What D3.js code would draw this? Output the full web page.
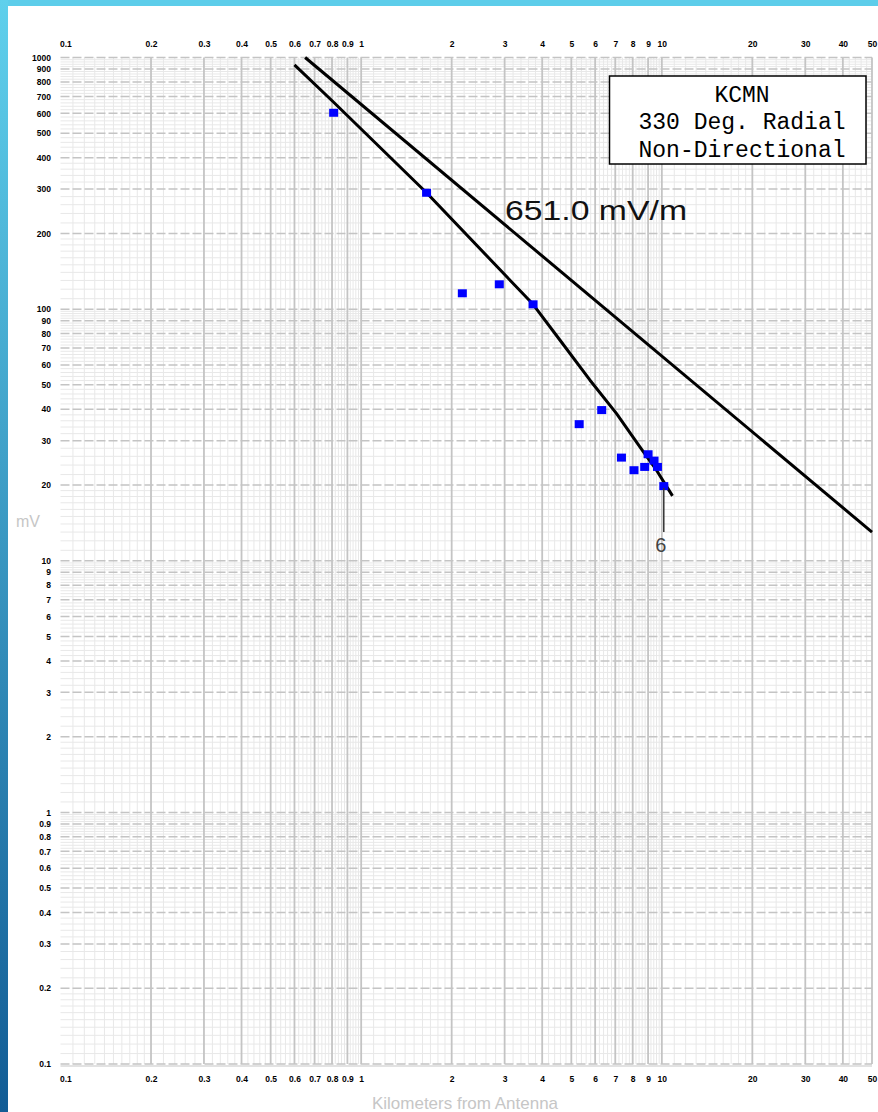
<!DOCTYPE html>
<html>
<head>
<meta charset="utf-8">
<script src="https://cdn.jsdelivr.net/npm/d3@7"></script>
<style>
  body { margin: 0; background: #fff; }
  .tick text { font-family: "Liberation Sans", Arial, sans-serif; font-size: 8.5px; font-weight: bold; fill: #000; }
</style>
</head>
<body>
<div id="chart"></div>
<script>
var svgWidth = 878;
var svgHeight = 1112;

// axis tick labels
var xTicks = [0.1, 0.2, 0.3, 0.4, 0.5, 0.6, 0.7, 0.8, 0.9, 1, 2, 3, 4, 5, 6, 7, 8, 9, 10, 20, 30, 40, 50];
var yTicks = [0.1, 0.2, 0.3, 0.4, 0.5, 0.6, 0.7, 0.8, 0.9, 1, 2, 3, 4, 5, 6, 7, 8, 9,
  10, 20, 30, 40, 50, 60, 70, 80, 90, 100, 200, 300, 400, 500, 600, 700, 800, 900, 1000];

// measured field strengths (blue squares)
var measuredKm = [0.81, 1.65, 2.17, 2.88, 3.73, 5.31, 6.31, 7.34, 8.08, 8.77, 9.00, 9.42, 9.67, 10.15];
var measuredMv = [603, 290, 115.6, 125.5, 104.5, 34.9, 39.7, 25.7, 22.9, 23.6, 26.5, 25.0, 23.6, 19.8];

// fitted conductivity curve
var curveKm = [0.60, 0.81, 1.65, 3.73, 4.58, 5.76, 7.06, 8.44, 9.6, 10.85];
var curveMv = [934, 664, 290, 104.5, 75.4, 52.3, 38.5, 28.4, 22.9, 18.1];

// inverse distance reference line
var refKm = [0.651, 50];
var refMv = [1000, 13.0];
var refLabel = "651.0 mV/m";

var stationLines = ["KCMN", "330 Deg. Radial", "Non-Directional"];
var pointLabel = "6";

var svg = d3.select("#chart")
  .append("svg")
  .attr("width", svgWidth)
  .attr("height", svgHeight);

// slide frame
var defs = svg.append("defs");
var grad = defs.append("linearGradient")
  .attr("id", "frameGrad")
  .attr("x1", 0).attr("y1", 0).attr("x2", 0).attr("y2", 1);
grad.append("stop").attr("offset", "0%").attr("stop-color", "#5fd0ec");
grad.append("stop").attr("offset", "100%").attr("stop-color", "#125c95");

svg.append("rect").attr("x", 0).attr("y", 0).attr("width", svgWidth).attr("height", svgHeight).attr("fill", "#fff");
svg.append("rect").attr("x", 0).attr("y", 0).attr("width", svgWidth).attr("height", 6).attr("fill", "#5dcdea");
svg.append("rect").attr("x", 0).attr("y", 0).attr("width", 8).attr("height", svgHeight).attr("fill", "url(#frameGrad)");

var x = d3.scaleLog().domain([0.1, 50]).range([60.5, 872]);
var y = d3.scaleLog().domain([0.1, 1000]).range([1064, 57.5]);

// minor grid values: 1-2 by 0.1, 2-10 by 0.2 inside each decade
function minorValues(lo, hi) {
  var vals = [];
  for (var p = -1; p <= 3; p++) {
    var base = Math.pow(10, p);
    for (var m = 10; m < 100; m += (m < 20 ? 1 : 2)) {
      var v = +(m * base / 10).toPrecision(6);
      if (v >= lo && v <= hi && m % 10 !== 0) vals.push(v);
    }
  }
  return vals;
}

var grid = svg.append("g").attr("class", "grid");

grid.selectAll(".vminor")
  .data(minorValues(0.1, 50))
  .enter().append("line")
  .attr("x1", d => x(d)).attr("x2", d => x(d))
  .attr("y1", y(1000)).attr("y2", y(0.1))
  .attr("stroke", "#e8e8e8").attr("stroke-width", 1);

grid.selectAll(".hminor")
  .data(minorValues(0.1, 1000))
  .enter().append("line")
  .attr("x1", x(0.1)).attr("x2", x(50))
  .attr("y1", d => y(d)).attr("y2", d => y(d))
  .attr("stroke", "#e8e8e8").attr("stroke-width", 1);

grid.selectAll(".hmajor")
  .data(yTicks)
  .enter().append("line")
  .attr("x1", x(0.1)).attr("x2", x(50))
  .attr("y1", d => y(d)).attr("y2", d => y(d))
  .attr("stroke", "#c4c4c4").attr("stroke-width", 1.5)
  .attr("stroke-dasharray", "9,3");

grid.selectAll(".vmajor")
  .data(xTicks.slice(1))
  .enter().append("line")
  .attr("x1", d => x(d)).attr("x2", d => x(d))
  .attr("y1", y(1000)).attr("y2", y(0.1))
  .attr("stroke", "#c4c4c4").attr("stroke-width", 1.8);

// bottom frame line
svg.append("line")
  .attr("x1", x(0.1)).attr("x2", x(50))
  .attr("y1", 1066).attr("y2", 1066)
  .attr("stroke", "#e2e2e2").attr("stroke-width", 2);

// axes (labels only)
var fmt = d => String(d);

var topAxis = svg.append("g")
  .attr("transform", `translate(0, ${y(1000)})`)
  .call(d3.axisTop(x).tickValues(xTicks).tickFormat(fmt).tickSize(0).tickPadding(10.5));
var bottomAxis = svg.append("g")
  .attr("transform", `translate(0, ${y(0.1)})`)
  .call(d3.axisBottom(x).tickValues(xTicks).tickFormat(fmt).tickSize(0).tickPadding(11.5));
var leftAxis = svg.append("g")
  .attr("transform", `translate(${x(0.1)}, 0)`)
  .call(d3.axisLeft(y).tickValues(yTicks).tickFormat(fmt).tickSize(0).tickPadding(9.5));

[topAxis, bottomAxis, leftAxis].forEach(function(a) {
  a.select(".domain").remove();
  a.attr("font-family", null).attr("font-size", null);
});
[topAxis, bottomAxis].forEach(function(a) {
  a.selectAll(".tick text").filter(d => d === 0.1).attr("text-anchor", "start").attr("x", -1);
});

// axis titles
svg.append("text")
  .attr("x", 465).attr("y", 1109)
  .attr("text-anchor", "middle")
  .style("font-family", "Liberation Sans, Arial, sans-serif")
  .style("font-size", "17px")
  .attr("fill", "#c6c6c6")
  .text("Kilometers from Antenna");

svg.append("text")
  .attr("x", 28).attr("y", 527)
  .attr("text-anchor", "middle")
  .style("font-family", "Liberation Sans, Arial, sans-serif")
  .style("font-size", "16px")
  .attr("fill", "#c6c6c6")
  .text("mV");

// lines
var refData = refKm.map((k, i) => [k, refMv[i]]);
var curveData = curveKm.map((k, i) => [k, curveMv[i]]);

var line = d3.line()
  .x(d => x(d[0]))
  .y(d => y(d[1]));

svg.append("path")
  .datum(refData)
  .attr("d", line)
  .attr("fill", "none")
  .attr("stroke", "#000")
  .attr("stroke-width", 3);

svg.append("path")
  .datum(curveData)
  .attr("d", line)
  .attr("fill", "none")
  .attr("stroke", "#000")
  .attr("stroke-width", 3)
  .attr("stroke-linejoin", "round");

svg.append("text")
  .attr("x", 505).attr("y", 220)
  .attr("textLength", 182)
  .attr("lengthAdjust", "spacingAndGlyphs")
  .style("font-family", "Liberation Sans, Arial, sans-serif")
  .style("font-size", "27px")
  .attr("fill", "#111")
  .text(refLabel);

// measured points
var pointsData = measuredKm.map((k, i) => ({ km: k, mv: measuredMv[i] }));
svg.selectAll(".pt")
  .data(pointsData)
  .enter().append("rect")
  .attr("class", "pt")
  .attr("x", d => x(d.km) - 4.5)
  .attr("y", d => y(d.mv) - 4)
  .attr("width", 9)
  .attr("height", 8)
  .attr("fill", "#0000ff");

// leader for last point
var last = pointsData[pointsData.length - 1];
svg.append("line")
  .attr("x1", x(last.km)).attr("x2", x(last.km))
  .attr("y1", y(last.mv) + 2).attr("y2", y(last.mv) + 46)
  .attr("stroke", "#333").attr("stroke-width", 1.5);
svg.append("text")
  .attr("x", x(last.km) - 3).attr("y", y(last.mv) + 66)
  .attr("text-anchor", "middle")
  .style("font-family", "Liberation Sans, Arial, sans-serif")
  .style("font-size", "20px")
  .attr("fill", "#444")
  .text(pointLabel);

// station box
svg.append("rect")
  .attr("x", 609.5).attr("y", 76)
  .attr("width", 256.5).attr("height", 88)
  .attr("fill", "#fff")
  .attr("stroke", "#000")
  .attr("stroke-width", 1.5);

svg.selectAll(".station")
  .data(stationLines)
  .enter().append("text")
  .attr("class", "station")
  .attr("x", 742)
  .attr("y", (d, i) => 101.5 + i * 27.5)
  .attr("text-anchor", "middle")
  .style("font-family", "Liberation Mono, Courier New, monospace")
  .style("font-size", "23px")
  .attr("fill", "#000")
  .text(d => d);
</script>
</body>
</html>
